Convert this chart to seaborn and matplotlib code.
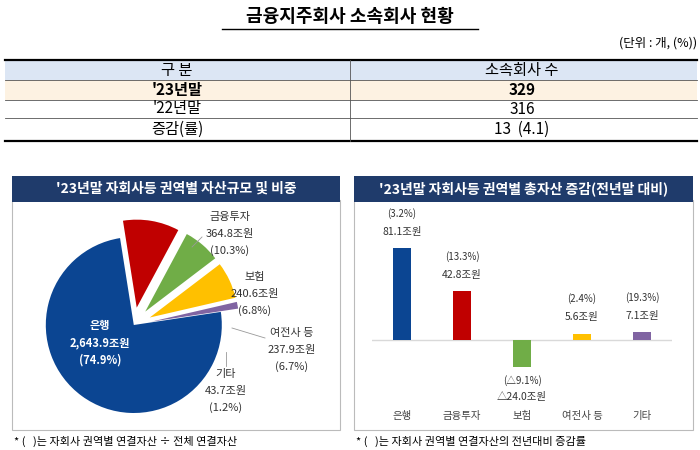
import matplotlib
matplotlib.use("Agg")
import matplotlib.pyplot as plt
import seaborn as sns
import pandas as pd
from matplotlib.patches import Rectangle

plt.rcParams["font.family"] = ["Noto Sans CJK KR", "Noto Sans CJK JP", "Noto Sans CJK SC", "DejaVu Sans"]

# ---- data ----
table_rows = ["'23년말", "'22년말", "증감(률)"]
table_vals = ["329", "316", "13  (4.1)"]
sectors = ["은행", "금융투자", "보험", "여전사 등", "기타"]
assets = [2643.9, 364.8, 240.6, 237.9, 43.7]
asset_share = [74.9, 10.3, 6.8, 6.7, 1.2]
change = [81.1, 42.8, -24.0, 5.6, 7.1]
change_pct = [3.2, 13.3, -9.1, 2.4, 19.3]
colors = ["#0b4592", "#c00000", "#70ad47", "#ffc000", "#8064a2"]

W, H = 700, 450
fig = plt.figure(figsize=(7, 4.5), dpi=100)
def fx(x): return x / W
def fy(y): return 1 - y / H

# title
fig.text(fx(350), fy(17), "금융지주회사 소속회사 현황", ha="center", va="center",
         fontsize=13, fontweight="bold")
fig.add_artist(plt.Line2D([fx(222), fx(478)], [fy(29), fy(29)], color="black", lw=1))
fig.text(fx(697), fy(43), "(단위 : 개, (%))", ha="right", va="center", fontsize=9)

# table
fig.add_artist(Rectangle((fx(5), fy(80)), fx(692), 20 / H, color="#dce6f4", lw=0))
fig.add_artist(Rectangle((fx(5), fy(100)), fx(692), 20 / H, color="#fdf2e2", lw=0))
fig.add_artist(plt.Line2D([fx(5), fx(697)], [fy(60), fy(60)], color="black", lw=1.6))
for yy in [80, 100, 118]:
    fig.add_artist(plt.Line2D([fx(5), fx(697)], [fy(yy), fy(yy)], color="#555", lw=0.6))
fig.add_artist(plt.Line2D([fx(5), fx(697)], [fy(141), fy(141)], color="black", lw=1.6))
fig.add_artist(plt.Line2D([fx(350), fx(350)], [fy(60), fy(141)], color="#555", lw=0.6))
fig.text(fx(177), fy(70), "구 분", ha="center", va="center", fontsize=11)
fig.text(fx(522), fy(70), "소속회사 수", ha="center", va="center", fontsize=11)
for i, (r, v) in enumerate(zip(table_rows, table_vals)):
    yc = [90, 109, 129][i]
    w = "bold" if i == 0 else "normal"
    fig.text(fx(177), fy(yc), r, ha="center", va="center", fontsize=11, fontweight=w)
    fig.text(fx(522), fy(yc), v, ha="center", va="center", fontsize=11, fontweight=w)

# panels
for x0, x1, t in [(12, 340, "'23년말 자회사등 권역별 자산규모 및 비중"),
                  (354, 693, "'23년말 자회사등 권역별 총자산 증감(전년말 대비)")]:
    fig.add_artist(Rectangle((fx(x0), fy(430)), (x1 - x0) / W, 230 / H,
                             fill=False, ec="#bbbbbb", lw=0.8))
    fig.add_artist(Rectangle((fx(x0), fy(202)), (x1 - x0) / W, 26 / H,
                             color="#1f3b6b", lw=0))
    fig.text(fx((x0 + x1) / 2), fy(189), t, ha="center", va="center",
             fontsize=10, fontweight="bold", color="white")
fig.text(fx(14), fy(441), "* (   )는 자회사 권역별 연결자산 ÷ 전체 연결자산", fontsize=8, va="center")
fig.text(fx(356), fy(441), "* (   )는 자회사 권역별 연결자산의 전년대비 증감률", fontsize=8, va="center")

# pie
axp = fig.add_axes([fx(15), fy(435), 220 / W, 220 / H])
order = [1, 2, 3, 4, 0]
axp.pie([assets[i] for i in order], colors=[colors[i] for i in order],
        startangle=99, counterclock=False, radius=1,
        explode=[0.2, 0.2, 0.2, 0.2, 0], center=(0.1, 0))
axp.set_xlim(-1.25, 1.25); axp.set_ylim(-1.25, 1.25); axp.set_aspect("equal"); axp.axis("off")

def lbl(x, y, i, c="#333"):
    v = f"{assets[i]:,.1f}조원"
    for k, s in enumerate([sectors[i], v, f"({asset_share[i]}%)"]):
        fig.text(fx(x), fy(y + 17 * k), s, ha="center", va="center", fontsize=8,
                 color=c, fontweight="bold" if c == "white" else "normal")
lbl(100, 326, 0, "white")
lbl(230, 217, 1)
lbl(255, 277, 2)
lbl(292, 333, 3)
lbl(226, 374, 4)
fig.add_artist(plt.Line2D([fx(192), fx(202)], [fy(247), fy(237)], color="#999", lw=0.6))
fig.add_artist(plt.Line2D([fx(232), fx(265)], [fy(328), fy(338)], color="#999", lw=0.6))
fig.add_artist(plt.Line2D([fx(226), fx(226)], [fy(352), fy(366)], color="#999", lw=0.6))

# bars
axb = fig.add_axes([fx(372), fy(400), 300 / W, 185 / H])
df = pd.DataFrame({"sector": sectors, "change": change})
sns.barplot(data=df, x="sector", y="change", hue="sector", palette=colors,
            width=0.3, ax=axb, legend=False, saturation=1)
axb.set_ylim(-52.9, 110)
axb.set_xlim(-0.5, 4.5)
axb.axhline(0, color="#d9d9d9", lw=1, zorder=0)
for s in axb.spines.values(): s.set_visible(False)
axb.set_yticks([]); axb.set_xlabel(""); axb.set_ylabel("")
axb.tick_params(axis="x", length=0, labelsize=7.5, colors="#444", pad=8)
def fmt(v): return ("△" if v < 0 else "") + f"{abs(v):.1f}"
for i, (v, p) in enumerate(zip(change, change_pct)):
    if v >= 0:
        axb.annotate(f"{fmt(v)}조원", (i, v), xytext=(0, 8), textcoords="offset points",
                     ha="center", va="bottom", fontsize=7.5, color="#333")
        axb.annotate(f"({fmt(p)}%)", (i, v), xytext=(0, 21), textcoords="offset points",
                     ha="center", va="bottom", fontsize=7, color="#333")
    else:
        axb.annotate(f"({fmt(p)}%)", (i, v), xytext=(0, -6), textcoords="offset points",
                     ha="center", va="top", fontsize=7, color="#333")
        axb.annotate(f"{fmt(v)}조원", (i, v), xytext=(0, -18), textcoords="offset points",
                     ha="center", va="top", fontsize=7.5, color="#333")

fig.savefig("out.png", dpi=100)
